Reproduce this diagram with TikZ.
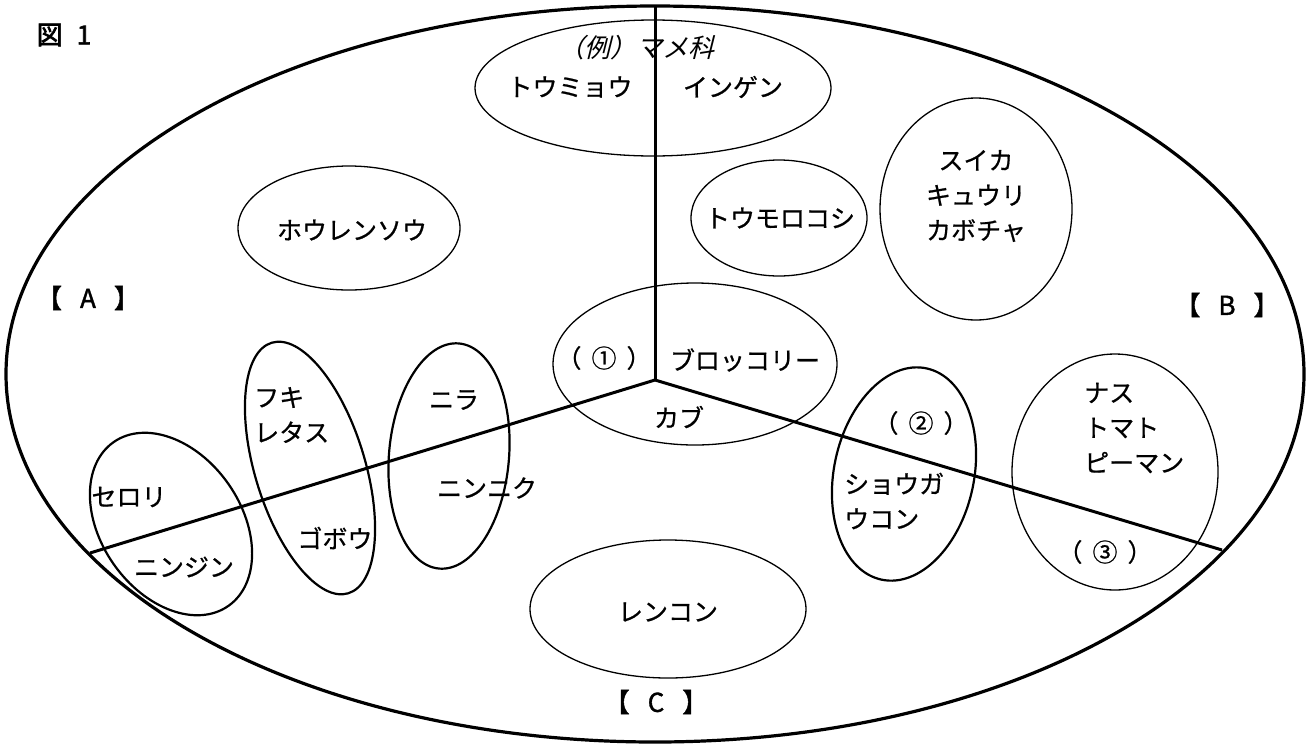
\documentclass[tikz,border=0pt]{standalone}
\usepackage{fontspec}
\newfontfamily\jp{Noto Sans CJK JP}[FakeBold=0.7]
\newfontfamily\jpb{Noto Sans CJK JP}[FakeBold=2.5]
\newfontfamily\jps{Noto Sans CJK JP}[FakeBold=1.5]
\newfontfamily\jpi{Noto Sans CJK JP}[FakeSlant=0.25]
\begin{document}
\begin{tikzpicture}[x=1pt,y=-1pt,
  big/.style={line width=3.2pt},
  divline/.style={line width=3pt},
  thinell/.style={line width=1.3pt},
  thickell/.style={line width=2.2pt},
  lbl/.style={font=\jp\fontsize{25}{35}\selectfont, inner sep=0pt},
  side/.style={font=\jps\fontsize{26}{30}\selectfont, inner sep=0pt}]
\useasboundingbox (0,0) rectangle (1311,745);
% outer ellipse
\draw[big] (655,374) ellipse [x radius=649, y radius=368];
% dividing lines
\coordinate (O) at (655,380);
\coordinate (T) at (655,6);
\coordinate (L) at (90,553);
\coordinate (R) at (1222,550);
\draw[divline] (O) -- (T);
\draw[divline] (O) -- (L);
\draw[divline] (O) -- (R);
% inner ellipses
\draw[thinell] (653,88) ellipse [x radius=178, y radius=68];
\draw[thinell] (349,228) ellipse [x radius=111, y radius=62];
\draw[thinell] (779,218) ellipse [x radius=88, y radius=58];
\draw[thinell] (976,209) ellipse [x radius=96, y radius=111];
\draw[thinell] (695,364) ellipse [x radius=142, y radius=81];
\draw[thickell] (449,456) ellipse [x radius=60, y radius=113, rotate=-5];
\draw[thickell] (310,468) ellipse [x radius=55, y radius=131, rotate=17];
\draw[thickell] (171,524) ellipse [x radius=70, y radius=100, rotate=35];
\draw[thickell] (904,474) ellipse [x radius=70, y radius=108, rotate=-12];
\draw[thinell] (1115,472) ellipse [x radius=103, y radius=118];
\draw[thinell] (668,609) ellipse [x radius=138, y radius=69];
% titles
\node[font=\jpb\fontsize{26}{26}\selectfont, inner sep=0pt] (fig) at (64,35) {図\hspace{14pt}1};
\node[side] (A) at (88,298) {【\hspace{18pt}A\hspace{18pt}】};
\node[side] (B) at (1227,305) {【\hspace{18pt}B\hspace{18pt}】};
\node[side] (C) at (656,702) {【\hspace{18pt}C\hspace{18pt}】};
% labels
\node[font=\jpi\fontsize{26}{26}\selectfont, inner sep=0pt] (ex) at (636,48) {（例）マメ科};
\node[lbl] (toumyou) at (570,87) {トウミョウ};
\node[lbl] (ingen) at (733,87) {インゲン};
\node[lbl] (hourensou) at (352,230) {ホウレンソウ};
\node[lbl] (toumorokoshi) at (780,218) {トウモロコシ};
\node[lbl, align=center] (suika) at (976,196) {スイカ\\キュウリ\\カボチャ};
\node[lbl] (q1) at (604,358) {（\hspace{10pt}①\hspace{10pt}）};
\node[lbl] (broccoli) at (745,360) {ブロッコリー};
\node[lbl] (kabu) at (679,417) {カブ};
\node[lbl] (nira) at (454,400) {ニラ};
\node[lbl] (ninniku) at (487,488) {ニンニク};
\node[lbl, align=left, anchor=west] (fuki) at (254,415) {フキ\\レタス};
\node[lbl] (gobou) at (335,538) {ゴボウ};
\node[lbl] (serori) at (129,497) {セロリ};
\node[lbl] (ninjin) at (184,567) {ニンジン};
\node[lbl] (q2) at (921,423) {（\hspace{10pt}②\hspace{10pt}）};
\node[lbl, align=left, anchor=west] (shouga) at (844,501) {ショウガ\\ウコン};
\node[lbl, align=left, anchor=west] (nasu) at (1084,428) {ナス\\トマト\\ピーマン};
\node[lbl] (q3) at (1105,552) {（\hspace{10pt}③\hspace{10pt}）};
\node[lbl] (renkon) at (668,612) {レンコン};
\end{tikzpicture}
\end{document}
